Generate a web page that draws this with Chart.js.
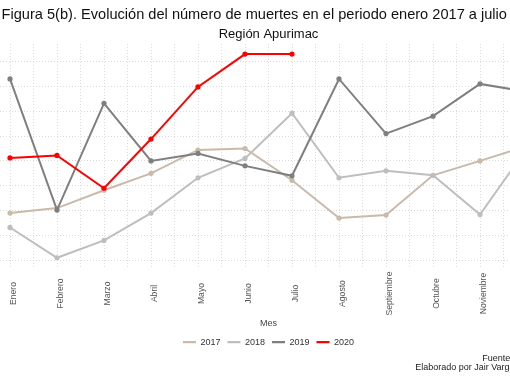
<!DOCTYPE html>
<html>
<head>
<meta charset="utf-8">
<script src="https://cdn.jsdelivr.net/npm/chart.js@4.4.1/dist/chart.umd.min.js"></script>
<style>
  html, body { margin: 0; padding: 0; background: #ffffff; overflow: hidden; width: 510px; height: 382px; }
  #wrap { position: absolute; left: -42px; top: 0; width: 620px; height: 382px; }
  canvas { display: block; }
</style>
</head>
<body>
<div id="wrap"><canvas id="c" width="620" height="382"></canvas></div>
<script>
// ---- data ----
const months = ["Enero", "Febrero", "Marzo", "Abril", "Mayo", "Junio", "Julio",
                "Agosto", "Septiembre", "Octubre", "Noviembre", "Diciembre"];
const seriesNames = ["2017", "2018", "2019", "2020"];
const deaths2017 = [19.5, 20.5, 24.1, 27.5, 32.2, 32.5, 26.1, 18.5, 19.1, 27.1, 30.0, 33.0];
const deaths2018 = [16.6, 10.5, 14.0, 19.5, 26.6, 30.5, 39.6, 26.6, 28.0, 27.1, 19.2, 32.6];
const deaths2019 = [46.5, 20.1, 41.6, 30.0, 31.5, 29.0, 27.0, 46.5, 35.5, 39.0, 45.5, 43.9];
const deaths2020 = [30.6, 31.1, 24.5, 34.4, 44.9, 51.5, 51.5];
const seriesColors = ["#C9BAA9", "#BEBEBE", "#7F7F7F", "#FF0000"];
const titleText = "Figura 5(b). Evolución del número de muertes en el periodo enero 2017 a julio 2020";
const subtitleText = "Región Apurimac";
const xTitle = "Mes";
const captionLines = ["Fuente: SINADEF", "Elaborado por Jair Vargas"];

const FONT = "'Liberation Sans', Arial, Helvetica, sans-serif";
const allSeries = [deaths2017, deaths2018, deaths2019, deaths2020];
const toPoints = arr => arr.map((v, i) => ({ x: i, y: v }));

// ggplot-like 5% expansion of the y range
const allVals = allSeries.flat();
const yLo = Math.min(...allVals), yHi = Math.max(...allVals);
const yPad = (yHi - yLo) * 0.05;

const datasets = allSeries.map((arr, k) => ({
  label: seriesNames[k],
  data: toPoints(arr),
  borderColor: seriesColors[k],
  backgroundColor: seriesColors[k],
  pointBackgroundColor: seriesColors[k],
  pointBorderWidth: 0,
  pointRadius: 2.6,
  borderWidth: 2,
  tension: 0,
  order: 4 - k,
  clip: false
}));

const extraText = {
  id: 'extraText',
  afterDraw(chart) {
    const sx = chart.scales.x;
    const ctx = chart.ctx;
    ctx.save();
    // month labels, rotated and centred like ggplot's angle = 90
    ctx.font = "8.6px " + FONT;
    const maxW = Math.max(...months.map(m => ctx.measureText(m).width));
    const yc = sx.top + 3.6 + maxW / 2;
    ctx.fillStyle = '#555555';
    ctx.textAlign = 'center';
    ctx.textBaseline = 'middle';
    months.forEach((m, i) => {
      const px = sx.getPixelForValue(i);
      ctx.save();
      ctx.translate(px + 3.4, yc);
      ctx.rotate(-Math.PI / 2);
      ctx.fillText(m, 0, 0);
      ctx.restore();
    });
    // title (slightly right of the canvas centre, as in the figure)
    const t = chart.titleBlock;
    ctx.font = "14.6px " + FONT;
    ctx.fillStyle = '#111111';
    ctx.textAlign = 'center';
    ctx.textBaseline = 'middle';
    ctx.fillText(titleText, (t.left + t.right) / 2 + 4, t.top + 6.6 + 14.6 * 1.2 / 2);
    // caption
    ctx.font = "9px " + FONT;
    ctx.fillStyle = '#222222';
    ctx.textAlign = 'left';
    const base = chart.chartArea.right;
    ctx.fillText(captionLines[0], base - 73, chart.height - 23.5);
    ctx.fillText(captionLines[1], base - 140, chart.height - 14);
    ctx.restore();
  }
};

new Chart(document.getElementById('c'), {
  type: 'line',
  data: { datasets },
  options: {
    responsive: false,
    animation: false,
    events: [],
    layout: { padding: { left: 23.8, right: 22.8, top: 0, bottom: 25.3 } },
    scales: {
      x: {
        type: 'linear',
        min: -0.6,
        max: months.length - 1 + 0.6,
        afterBuildTicks(scale) {
          const t = [];
          for (let v = -0.5; v <= months.length - 0.5 + 1e-9; v += 0.5) t.push({ value: v });
          scale.ticks = t;
        },
        ticks: {
          autoSkip: false,
          minRotation: 90,
          maxRotation: 90,
          padding: 2,
          font: { family: FONT, size: 8.6 },
          color: 'rgba(0,0,0,0)',
          callback: (v) => Number.isInteger(v) && months[v] ? months[v] : ''
        },
        grid: { color: '#DADADA', lineWidth: 1, drawTicks: false },
        border: { display: false, dash: [1, 2] },
        title: {
          display: true, text: xTitle, color: '#444444',
          font: { family: FONT, size: 9 }, padding: { top: 2, bottom: 2 }
        }
      },
      y: {
        min: yLo - yPad,
        max: yHi + yPad,
        ticks: { display: false, stepSize: 5, includeBounds: false },
        grid: { color: '#DADADA', lineWidth: 1, drawTicks: false },
        border: { display: false, dash: [1, 2] }
      }
    },
    plugins: {
      title: {
        display: true, text: titleText, color: 'rgba(0,0,0,0)',
        font: { family: FONT, size: 14.6, weight: 'normal' },
        padding: { top: 6.6, bottom: 0 }
      },
      subtitle: {
        display: true, text: subtitleText, color: '#111111',
        font: { family: FONT, size: 13, weight: 'normal' },
        padding: { top: 2.2, bottom: 2 }
      },
      legend: {
        display: true, position: 'bottom',
        labels: {
          usePointStyle: true, pointStyle: 'line', pointStyleWidth: 13,
          padding: 7, color: '#333333',
          font: { family: FONT, size: 9 },
          sort: (a, b) => a.datasetIndex - b.datasetIndex,
          generateLabels(chart) {
            const items = Chart.defaults.plugins.legend.labels.generateLabels(chart);
            return items.map(it => Object.assign(it, {
              lineWidth: 2.2,
              strokeStyle: seriesColors[it.datasetIndex],
              fillStyle: seriesColors[it.datasetIndex],
              pointStyle: 'line'
            }));
          }
        }
      },
      tooltip: { enabled: false }
    }
  },
  plugins: [extraText]
});
</script>
</body>
</html>
